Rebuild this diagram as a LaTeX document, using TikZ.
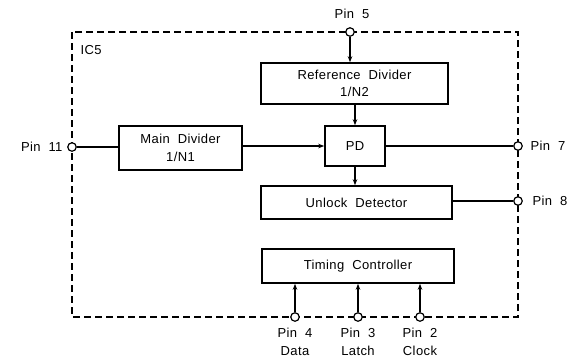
\documentclass[tikz,border=0pt]{standalone}
\usepackage{fontspec}
\setmainfont{Liberation Sans}[LetterSpace=3,WordSpace=2]
\usetikzlibrary{arrows.meta}
\begin{document}
\begin{tikzpicture}[x=1pt,y=-1pt,
  font=\fontsize{13}{17.5}\selectfont,
  blk/.style={draw,line width=1.6pt,inner sep=0pt,align=center},
  pin/.style={circle,draw,fill=white,line width=1.2pt,minimum size=8.5pt,inner sep=0pt},
  arr/.style={-{Stealth[length=6pt,width=4.5pt]},line width=1.1pt},
  ln/.style={line width=1.1pt},
  frame/.style={line width=1.3pt,dash pattern=on 7pt off 4pt}]
\useasboundingbox (0,0) rectangle (584,362);
% frame
\coordinate (tl) at (72,32);
\coordinate (br) at (518,317);
\draw[frame] (tl) rectangle (br);
\node[anchor=west] (ic) at (77,50) {IC5};
% blocks
\node[blk,minimum width=187pt,minimum height=41pt] (refdiv) at (354.5,83.5) {Reference Divider\\1/N2};
\node[blk,minimum width=60pt,minimum height=40pt] (pd) at (355,146) {PD};
\node[blk,minimum width=123pt,minimum height=44pt] (maindiv) at (180.5,148) {Main Divider\\1/N1};
\node[blk,minimum width=191pt,minimum height=33pt] (unlock) at (356.5,202.5) {Unlock Detector};
\node[blk,minimum width=192pt,minimum height=34pt] (timing) at (358,266) {Timing Controller};
% pins
\node[pin] (p5) at (350,32) {};
\node[pin] (p11) at (72,147) {};
\node[pin] (p7) at (518,146) {};
\node[pin] (p8) at (518,201) {};
\node[pin] (p4) at (295,317) {};
\node[pin] (p3) at (358,317) {};
\node[pin] (p2) at (420,317) {};
% pin labels
\node (l5) at (352,14) {Pin 5};
\node[anchor=east] (l11) at (66,147) {Pin 11};
\node[anchor=west] (l7) at (527,146) {Pin 7};
\node[anchor=west] (l8) at (529,201) {Pin 8};
\node[align=center] (l4) at (295,342) {Pin 4\\Data};
\node[align=center] (l3) at (358,342) {Pin 3\\Latch};
\node[align=center] (l2) at (420,342) {Pin 2\\Clock};
% connectors
\draw[arr] (p5) -- (p5 |- refdiv.north);
\draw[arr] (pd.north |- refdiv.south) -- (pd.north);
\draw[ln] (p11) -- (p11 -| maindiv.west);
\draw[arr] (maindiv.east |- pd.west) -- (pd.west);
\draw[ln] (pd.east) -- (p7);
\draw[arr] (pd.south) -- (pd.south |- unlock.north);
\draw[ln] (unlock.east |- p8) -- (p8);
\draw[arr] (p4) -- (p4 |- timing.south);
\draw[arr] (p3) -- (p3 |- timing.south);
\draw[arr] (p2) -- (p2 |- timing.south);
\end{tikzpicture}
\end{document}
